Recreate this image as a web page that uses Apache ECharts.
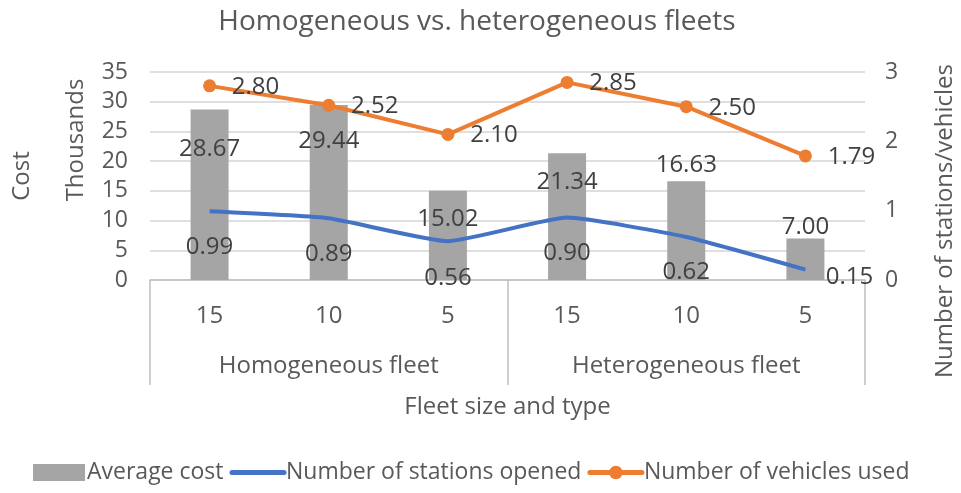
<!DOCTYPE html>
<html>
<head>
<meta charset="utf-8">
<script src="https://cdn.jsdelivr.net/npm/echarts@6/dist/echarts.min.js"></script>
<style>
  html, body { margin: 0; padding: 0; background: #fff; }
  #chart { width: 961px; height: 493px; }
</style>
</head>
<body>
<div id="chart"></div>
<script>
// data
const fleetSizes = ['15', '10', '5', '15', '10', '5'];
const fleetTypes = ['Homogeneous fleet', 'Heterogeneous fleet'];
const averageCost = [28.67, 29.44, 15.02, 21.34, 16.63, 7.00];
const stationsOpened = [0.99, 0.89, 0.56, 0.90, 0.62, 0.15];
const vehiclesUsed = [2.80, 2.52, 2.10, 2.85, 2.50, 1.79];

// label placement (styling only)
const barLabelDy = [40, 36, 28, 29, -16, -11];
const blueLabelOffset = [[0, 36], [0, 36], [0, 37], [0, 36], [0, 35], [44, 8]];

const txt = '#595959';
const font = 'Open Sans';

const chart = echarts.init(document.getElementById('chart'));

chart.setOption({
    backgroundColor: '#fff',
    textStyle: { fontFamily: font, color: txt },
    animation: false,
    title: {
        text: 'Homogeneous vs. heterogeneous fleets',
        left: 472,
        textAlign: 'center',
        top: 3,
        textStyle: { fontFamily: font, fontSize: 28, fontWeight: 'normal', color: txt }
    },
    grid: { left: 150, right: 96, top: 72, bottom: 213 },
    legend: {
        left: 28,
        top: 456,
        itemGap: 6,
        itemWidth: 52,
        itemHeight: 17,
        textStyle: { fontFamily: font, fontSize: 23, color: txt, padding: [0, 0, 0, -3] },
        data: [
            { name: 'Average cost', icon: 'rect' },
            { name: 'Number of stations opened', itemStyle: { opacity: 0 }, lineStyle: { width: 5, cap: 'round' } },
            { name: 'Number of vehicles used', lineStyle: { width: 5, cap: 'round' } }
        ]
    },
    xAxis: [
        {
            type: 'category',
            data: fleetSizes,
            axisLine: { lineStyle: { color: '#bfbfbf', width: 1.5 } },
            axisTick: { show: false },
            axisLabel: { margin: 24, fontSize: 24, color: txt, fontFamily: font }
        },
        {
            type: 'category',
            data: fleetTypes,
            position: 'bottom',
            axisLine: { show: false },
            axisTick: { show: true, length: 105, lineStyle: { color: '#bfbfbf', width: 1.5 } },
            axisLabel: { margin: 74, fontSize: 24, color: txt, fontFamily: font },
            name: 'Fleet size and type',
            nameLocation: 'middle',
            nameGap: 115,
            nameTextStyle: { fontSize: 24, color: txt, fontFamily: font }
        }
    ],
    yAxis: [
        {
            type: 'value',
            min: 0,
            max: 35,
            interval: 5,
            axisLine: { show: false },
            axisTick: { show: false },
            axisLabel: { margin: 22, fontSize: 23, color: txt, fontFamily: font },
            splitLine: { lineStyle: { color: '#d4d4d4', width: 1.5 } }
        },
        {
            type: 'value',
            min: 0,
            max: 3,
            interval: 1,
            axisLine: { show: false },
            axisTick: { show: false },
            axisLabel: { margin: 20, fontSize: 23, color: txt, fontFamily: font },
            splitLine: { show: false }
        }
    ],
    graphic: [
        {
            type: 'text', x: 22, y: 176, rotation: Math.PI / 2,
            style: { text: 'Cost', fontSize: 24, fontFamily: font, fill: txt, align: 'center', verticalAlign: 'middle' }
        },
        {
            type: 'text', x: 76, y: 140, rotation: Math.PI / 2,
            style: { text: 'Thousands', fontSize: 24, fontFamily: font, fill: txt, align: 'center', verticalAlign: 'middle' }
        },
        {
            type: 'text', x: 945, y: 221, rotation: Math.PI / 2,
            style: { text: 'Number of stations/vehicles', fontSize: 24, fontFamily: font, fill: txt, align: 'center', verticalAlign: 'middle' }
        }
    ],
    series: [
        {
            name: 'Average cost',
            type: 'bar',
            barWidth: 38,
            itemStyle: { color: '#a5a5a5' },
            data: averageCost.map((v, i) => ({
                value: v,
                label: { position: ['50%', barLabelDy[i]] }
            })),
            label: {
                show: true,
                align: 'center',
                verticalAlign: 'middle',
                fontSize: 24,
                color: '#404040',
                fontFamily: font,
                formatter: p => p.value.toFixed(2)
            }
        },
        {
            name: 'Number of stations opened',
            type: 'line',
            yAxisIndex: 1,
            symbol: 'circle',
            symbolSize: 1,
            smooth: 0.15,
            lineStyle: { color: '#4472c4', width: 4 },
            itemStyle: { color: 'rgba(68,114,196,0)' },
            data: stationsOpened.map((v, i) => ({
                value: v,
                label: { offset: blueLabelOffset[i] }
            })),
            label: {
                show: true,
                position: 'inside',
                fontSize: 24,
                color: '#404040',
                fontFamily: font,
                formatter: p => p.value.toFixed(2)
            }
        },
        {
            name: 'Number of vehicles used',
            type: 'line',
            yAxisIndex: 1,
            symbol: 'circle',
            symbolSize: 13,
            lineStyle: { color: '#ed7d31', width: 4 },
            itemStyle: { color: '#ed7d31' },
            data: vehiclesUsed,
            label: {
                show: true,
                position: 'inside',
                offset: [46, 1],
                fontSize: 24,
                color: '#404040',
                fontFamily: font,
                formatter: p => p.value.toFixed(2)
            }
        }
    ]
});
</script>
</body>
</html>
